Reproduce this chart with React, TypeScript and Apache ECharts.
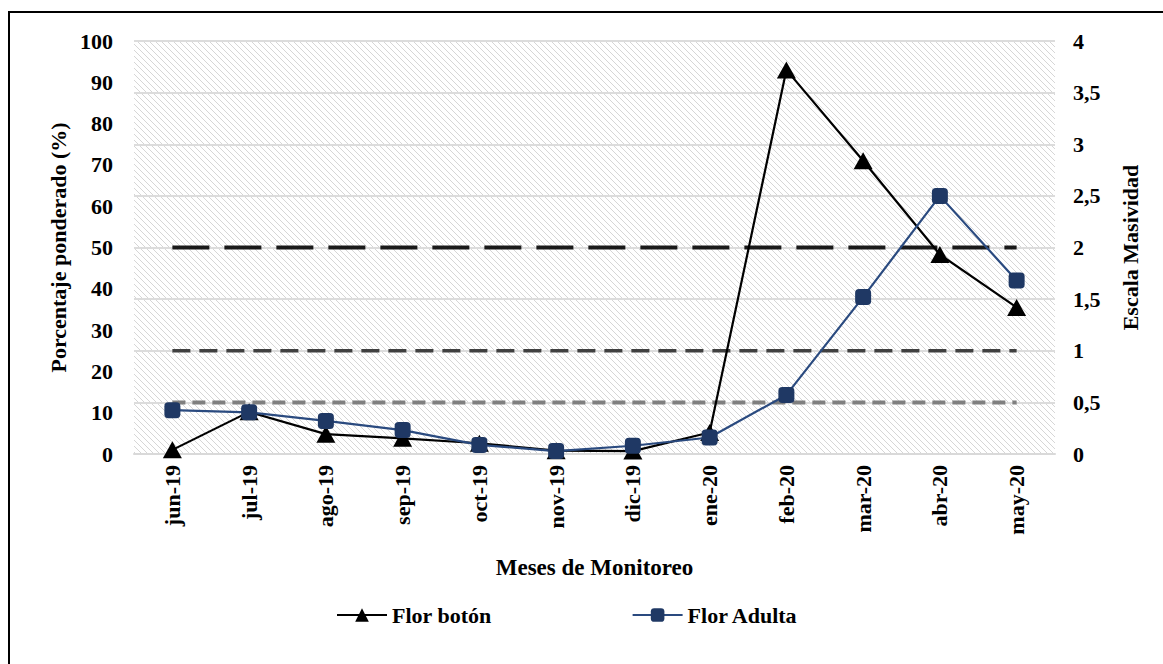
import React, { useEffect, useRef } from "react";
import * as echarts from "echarts";

// Monitoring months
const meses = [
  "jun-19", "jul-19", "ago-19", "sep-19", "oct-19", "nov-19",
  "dic-19", "ene-20", "feb-20", "mar-20", "abr-20", "may-20",
];

// Weighted percentage (%) per month
const florBoton = [1.0, 10.2, 4.8, 3.8, 2.6, 0.8, 0.7, 5.2, 93, 71, 48.3, 35.5];
const florAdulta = [10.6, 10.1, 8.0, 5.8, 2.2, 0.7, 2.0, 4.0, 14.3, 38, 62.5, 42];

// Massiveness scale reference levels (right axis)
const nivelAlto = [2, 2, 2, 2, 2, 2, 2, 2, 2, 2, 2, 2];
const nivelMedio = [1, 1, 1, 1, 1, 1, 1, 1, 1, 1, 1, 1];
const nivelBajo = [0.5, 0.5, 0.5, 0.5, 0.5, 0.5, 0.5, 0.5, 0.5, 0.5, 0.5, 0.5];

const FONT = "'Liberation Serif', 'Times New Roman', serif";

function hatchPattern(): HTMLCanvasElement {
  const c = document.createElement("canvas");
  const s = 6;
  c.width = s;
  c.height = s;
  const ctx = c.getContext("2d")!;
  ctx.fillStyle = "#ffffff";
  ctx.fillRect(0, 0, s, s);
  ctx.strokeStyle = "#d6d6d6";
  ctx.lineWidth = 1;
  ctx.beginPath();
  ctx.moveTo(-1, -1);
  ctx.lineTo(s + 1, s + 1);
  ctx.moveTo(-1, s - 1);
  ctx.lineTo(1, s + 1);
  ctx.moveTo(s - 1, -1);
  ctx.lineTo(s + 1, 1);
  ctx.stroke();
  return c;
}

export default function App() {
  const ref = useRef<HTMLDivElement>(null);

  useEffect(() => {
    if (!ref.current) return;
    const chart = echarts.init(ref.current, undefined, { renderer: "svg" });

    const labelStyle = {
      fontFamily: FONT,
      fontWeight: "bold" as const,
      fontSize: 22,
      color: "#000",
    };

    const refLine = (name: string, data: number[], color: string, width: number, dash: number[]) => ({
      name,
      type: "line" as const,
      yAxisIndex: 1,
      data,
      symbol: "none",
      silent: true,
      lineStyle: { color, width, type: dash, cap: "butt" as const },
      z: 1,
    });

    chart.setOption({
      animation: false,
      graphic: [
        {
          type: "rect",
          shape: { x: 9, y: 12, width: 1170, height: 700 },
          style: { fill: "none", stroke: "#000", lineWidth: 2 },
          silent: true,
          z: -10,
        },
      ],
      grid: {
        left: 134,
        right: 108,
        top: 41,
        bottom: 210,
        show: true,
        borderWidth: 0,
        backgroundColor: { image: hatchPattern(), repeat: "repeat" },
      },
      legend: {
        data: ["Flor botón", "Flor Adulta"],
        left: 331,
        top: 599,
        itemWidth: 50,
        itemHeight: 17,
        itemGap: 140,
        textStyle: { ...labelStyle, padding: [0, 0, 0, 0] },
      },
      xAxis: {
        type: "category",
        data: meses,
        boundaryGap: true,
        axisLine: { show: true, lineStyle: { color: "#d9d9d9", width: 2 } },
        axisTick: { show: false },
        axisLabel: { ...labelStyle, rotate: 90, margin: 11 },
        name: "Meses de Monitoreo",
        nameLocation: "middle",
        nameGap: 102,
        nameTextStyle: { ...labelStyle, fontSize: 23 },
      },
      yAxis: [
        {
          type: "value",
          min: 0,
          max: 100,
          interval: 10,
          axisLine: { show: false },
          axisTick: { show: false },
          splitLine: { show: false },
          axisLabel: { ...labelStyle, margin: 21 },
          name: "Porcentaje ponderado (%)",
          nameLocation: "middle",
          nameRotate: 90,
          nameGap: 64,
          nameTextStyle: { ...labelStyle },
        },
        {
          type: "value",
          position: "right",
          min: 0,
          max: 4,
          interval: 0.5,
          axisLine: { show: false },
          axisTick: { show: false },
          splitLine: { show: true, lineStyle: { color: "#dcdcdc", width: 2 } },
          axisLabel: {
            ...labelStyle,
            margin: 18,
            formatter: (v: number) => String(v).replace(".", ","),
          },
          name: "Escala Masividad",
          nameLocation: "middle",
          nameRotate: 90,
          nameGap: 64,
          nameTextStyle: { ...labelStyle },
        },
      ],
      series: [
        refLine("Nivel alto", nivelAlto, "#1a1a1a", 4, [37, 15]),
        refLine("Nivel medio", nivelMedio, "#404040", 3.5, [18, 9]),
        refLine("Nivel bajo", nivelBajo, "#7f7f7f", 4, [13, 7]),
        {
          name: "Flor botón",
          type: "line",
          yAxisIndex: 0,
          data: florBoton,
          symbol: "triangle",
          symbolSize: [19, 17],
          itemStyle: { color: "#000" },
          lineStyle: { color: "#000", width: 2.2 },
          z: 3,
        },
        {
          name: "Flor Adulta",
          type: "line",
          yAxisIndex: 0,
          data: florAdulta,
          symbol: "roundRect",
          symbolSize: 16,
          itemStyle: { color: "#1f3864" },
          lineStyle: { color: "#2a4a7f", width: 2.2 },
          z: 4,
        },
      ],
    });

    return () => chart.dispose();
  }, []);

  return (
    <div
      ref={ref}
      style={{ position: "absolute", left: 0, top: 0, width: 1163, height: 664, background: "#fff" }}
    />
  );
}
